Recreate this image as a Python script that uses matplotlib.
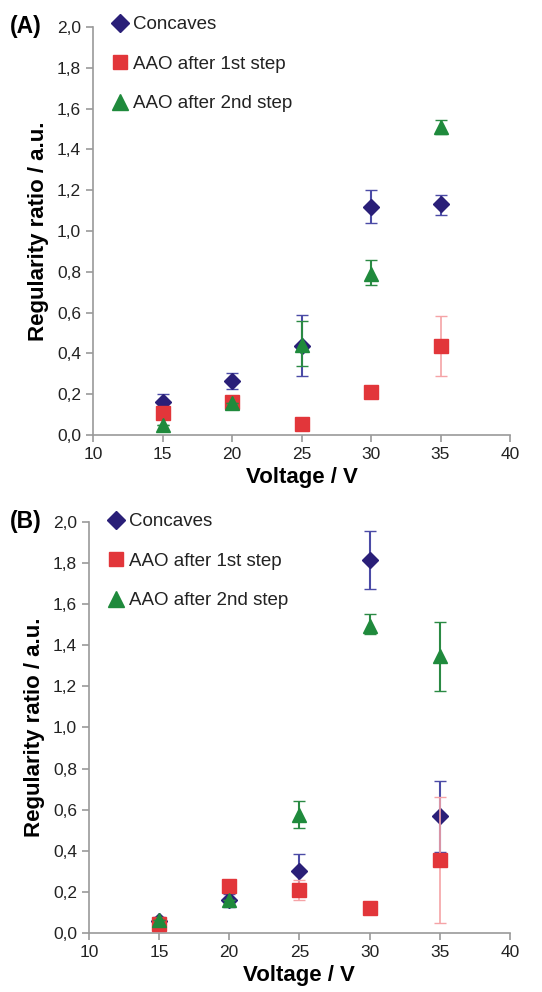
import matplotlib.pyplot as plt
from matplotlib.lines import Line2D

plt.rcParams['font.family'] = ['Liberation Sans', 'DejaVu Sans']

voltage = [15, 20, 25, 30, 35]
labels = ['Concaves', 'AAO after 1st step', 'AAO after 2nd step']

# panel A: values, lower error, upper error
a_conc = [0.16, 0.263, 0.435, 1.12, 1.13]
a_conc_lo = [0.04, 0.04, 0.145, 0.08, 0.05]
a_conc_hi = [0.04, 0.04, 0.155, 0.08, 0.046]
a_aao1 = [0.108, 0.16, 0.056, 0.212, 0.438]
a_aao1_lo = [0, 0, 0, 0, 0.148]
a_aao1_hi = [0, 0, 0, 0, 0.147]
a_aao2 = [0.05, 0.157, 0.44, 0.79, 1.51]
a_aao2_lo = [0, 0, 0.104, 0.055, 0.035]
a_aao2_hi = [0, 0, 0.12, 0.07, 0.035]

# panel B
b_conc = [0.06, 0.162, 0.303, 1.814, 0.567]
b_conc_lo = [0.02, 0.037, 0.08, 0.138, 0.175]
b_conc_hi = [0.02, 0.028, 0.081, 0.141, 0.173]
b_aao1 = [0.044, 0.227, 0.209, 0.121, 0.353]
b_aao1_lo = [0, 0, 0.049, 0, 0.304]
b_aao1_hi = [0, 0, 0.049, 0, 0.309]
b_aao2 = [0.065, 0.162, 0.575, 1.496, 1.347]
b_aao2_lo = [0, 0, 0.065, 0.04, 0.17]
b_aao2_hi = [0, 0, 0.066, 0.054, 0.167]

yticks = [0.0, 0.2, 0.4, 0.6, 0.8, 1.0, 1.2, 1.4, 1.6, 1.8, 2.0]
xticks = [10, 15, 20, 25, 30, 35, 40]

navy = '#2a1f78'
navy_err = '#4b4ba6'
red = '#e2363a'
red_err = '#f5a3a6'
green = '#1f8a3c'
green_err = '#2b8a44'

fig = plt.figure(figsize=(5.42, 9.92), dpi=100)
axA = fig.add_axes([0.1716, 0.5615, 0.7694, 0.4113])
axB = fig.add_axes([0.164, 0.0595, 0.7768, 0.4143])


def draw(ax, conc, clo, chi, a1, a1lo, a1hi, a2, a2lo, a2hi, tag, ly):
    ax.errorbar(voltage, conc, yerr=[clo, chi], fmt='D', color=navy, ms=8,
                ecolor=navy_err, elinewidth=1.5, capsize=4, zorder=3)
    ax.errorbar(voltage, a1, yerr=[a1lo, a1hi], fmt='s', color=red, ms=10,
                ecolor=red_err, elinewidth=1.2, capsize=4, zorder=4)
    ax.errorbar(voltage, a2, yerr=[a2lo, a2hi], fmt='^', color=green, ms=10,
                ecolor=green_err, elinewidth=1.5, capsize=4, zorder=5)
    ax.set_xlim(10, 40)
    ax.set_ylim(0, 2.0)
    ax.set_xticks(xticks)
    ax.set_yticks(yticks)
    ax.set_yticklabels([('%.1f' % v).replace('.', ',') for v in yticks])
    ax.spines['top'].set_visible(False)
    ax.spines['right'].set_visible(False)
    for s in ['left', 'bottom']:
        ax.spines[s].set_color('#9a9a9a')
        ax.spines[s].set_linewidth(1.2)
    ax.tick_params(colors='#9a9a9a', labelcolor='#222222', labelsize=12.5,
                   length=5, width=1.2, direction='out')
    ax.set_xlabel('Voltage / V', fontsize=16, fontweight='bold', labelpad=4)
    ax.set_ylabel('Regularity ratio / a.u.', fontsize=16, fontweight='bold', labelpad=6)
    handles = [Line2D([], [], ls='none', marker='D', color=navy, ms=9),
               Line2D([], [], ls='none', marker='s', color=red, ms=10),
               Line2D([], [], ls='none', marker='^', color=green, ms=11)]
    leg = ax.legend(handles, labels, loc='upper left',
                    bbox_to_anchor=(0.02, ly), frameon=False, fontsize=13.5,
                    labelspacing=1.2, handletextpad=0.1, handlelength=1.2,
                    borderaxespad=0)
    for t in leg.get_texts():
        t.set_color('#222222')
    fig.text(0.018, ax.get_position().y1, tag, fontsize=16.5, fontweight='bold',
             va='center', ha='left')


draw(axA, a_conc, a_conc_lo, a_conc_hi, a_aao1, a_aao1_lo, a_aao1_hi,
     a_aao2, a_aao2_lo, a_aao2_hi, '(A)', 1.045)
draw(axB, b_conc, b_conc_lo, b_conc_hi, b_aao1, b_aao1_lo, b_aao1_hi,
     b_aao2, b_aao2_lo, b_aao2_hi, '(B)', 1.04)

fig.savefig('out.png', dpi=100)
